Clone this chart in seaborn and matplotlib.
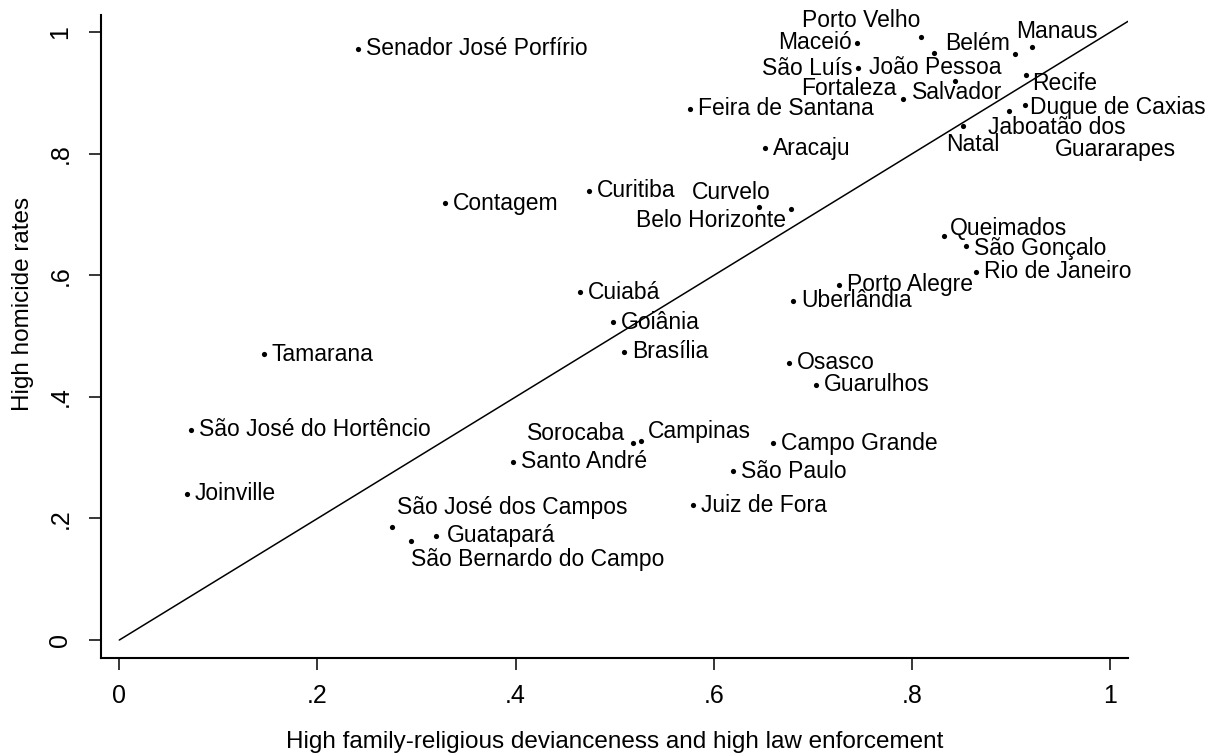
import numpy as np
import pandas as pd
import matplotlib
matplotlib.use("Agg")
import matplotlib.pyplot as plt
import seaborn as sns

cities = ['Senador José Porfírio', 'Maceió', 'Porto Velho', 'João Pessoa', 'Belém', 'Manaus',
          'São Luís', 'Salvador', 'Fortaleza', 'Recife', 'Duque de Caxias', 'Jaboatão dos Guararapes',
          'Natal', 'Feira de Santana', 'Aracaju', 'Contagem', 'Curitiba', 'Curvelo', 'Belo Horizonte',
          'Queimados', 'São Gonçalo', 'Rio de Janeiro', 'Porto Alegre', 'Uberlândia', 'Cuiabá',
          'Goiânia', 'Brasília', 'Osasco', 'Guarulhos', 'Tamarana', 'São José do Hortêncio',
          'Joinville', 'Santo André', 'São José dos Campos', 'São Bernardo do Campo', 'Guatapará',
          'Juiz de Fora', 'São Paulo', 'Campo Grande', 'Sorocaba', 'Campinas']
deviance = [0.241, 0.745, 0.809, 0.822, 0.904, 0.921,
            0.746, 0.843, 0.791, 0.915, 0.914, 0.898,
            0.851, 0.576, 0.652, 0.329, 0.474, 0.646, 0.678,
            0.832, 0.855, 0.865, 0.726, 0.680, 0.465,
            0.498, 0.509, 0.676, 0.703, 0.146, 0.072,
            0.068, 0.397, 0.275, 0.294, 0.320,
            0.579, 0.619, 0.660, 0.518, 0.527]
homicide = [0.973, 0.983, 0.992, 0.966, 0.964, 0.976,
            0.941, 0.920, 0.890, 0.929, 0.880, 0.871,
            0.846, 0.874, 0.809, 0.719, 0.739, 0.712, 0.709,
            0.665, 0.649, 0.606, 0.585, 0.558, 0.572,
            0.523, 0.474, 0.456, 0.420, 0.470, 0.346,
            0.241, 0.293, 0.186, 0.163, 0.172,
            0.222, 0.278, 0.324, 0.325, 0.328]

ticks = [0, 0.2, 0.4, 0.6, 0.8, 1]
tick_labels = ['0', '.2', '.4', '.6', '.8', '1']
diag = np.array([0, 1.018])

df = pd.DataFrame({'city': cities, 'x': deviance, 'y': homicide})

# label placement relative to the dot: (dx px, dy px, ha)
label_pos = {
    'Maceió': (-6, 0, 'right'),
    'Porto Velho': (-1, 17, 'right'),
    'João Pessoa': (1, -15, 'center'),
    'Belém': (-5, 11, 'right'),
    'Manaus': (-16, 15, 'left'),
    'São Luís': (-6, 0, 'right'),
    'Fortaleza': (-7, 11, 'right'),
    'Salvador': (3, -12, 'center'),
    'Recife': (6, -8, 'left'),
    'Duque de Caxias': (5, -2, 'left'),
    'Natal': (10, -19, 'center'),
    'Curvelo': (11, 15, 'right'),
    'Belo Horizonte': (-5, -11, 'right'),
    'Queimados': (6, 7, 'left'),
    'São Gonçalo': (8, -3, 'left'),
    'Sorocaba': (-7, 9, 'right'),
    'Campinas': (6, 9, 'left'),
    'São José dos Campos': (5, 19, 'left'),
    'São Bernardo do Campo': (0, -19, 'left'),
    'Guatapará': (10, 0, 'left'),
}

sns.set_style('ticks')
plt.rcParams['font.family'] = ['Liberation Sans', 'DejaVu Sans']
plt.rcParams['text.color'] = 'black'
plt.rcParams['axes.labelcolor'] = 'black'
plt.rcParams['xtick.color'] = 'black'
plt.rcParams['ytick.color'] = 'black'

fig = plt.figure(figsize=(12.15, 7.56), dpi=100)
ax = fig.add_axes([0.0831, 0.1296, 0.8453, 0.8506])

sns.lineplot(x=diag, y=diag, color='black', lw=1.1, ax=ax)
sns.scatterplot(data=df, x='x', y='y', color='black', s=14, linewidth=0, ax=ax)

fs = 16.5
for name, x, y in zip(cities, deviance, homicide):
    if name == 'Jaboatão dos Guararapes':
        ax.annotate('Jaboatão dos', (x, y), xytext=(-21, -17), textcoords='offset pixels',
                    ha='left', va='center', fontsize=fs)
        ax.annotate('Guararapes', (x, y), xytext=(46, -39), textcoords='offset pixels',
                    ha='left', va='center', fontsize=fs)
        continue
    dx, dy, ha = label_pos.get(name, (8, 0, 'left'))
    ax.annotate(name, (x, y), xytext=(dx, dy), textcoords='offset pixels',
                ha=ha, va='center', fontsize=fs)

ax.set_xlim(-0.0185, 1.018)
ax.set_ylim(-0.0296, 1.0285)
ax.set_xticks(ticks)
ax.set_xticklabels(tick_labels)
ax.set_yticks(ticks)
ax.set_yticklabels(tick_labels, rotation=90, va='center')
ax.tick_params(axis='both', length=8.6, width=1.1, labelsize=18, color='black', labelcolor='black')
ax.tick_params(axis='x', pad=10)
ax.tick_params(axis='y', pad=12)

sns.despine(ax=ax)
for side in ['left', 'bottom']:
    ax.spines[side].set_linewidth(1.5)
    ax.spines[side].set_color('black')

ax.set_xlabel('High family-religious devianceness and high law enforcement', fontsize=17.5)
ax.set_ylabel('High homicide rates', fontsize=17.5)
ax.xaxis.label.set_va('center')
ax.yaxis.label.set_va('center')
ax.xaxis.set_label_coords(0.5, -0.130)
ax.yaxis.set_label_coords(-0.076, 0.55)

fig.savefig('out.png', dpi=100, facecolor='white')
